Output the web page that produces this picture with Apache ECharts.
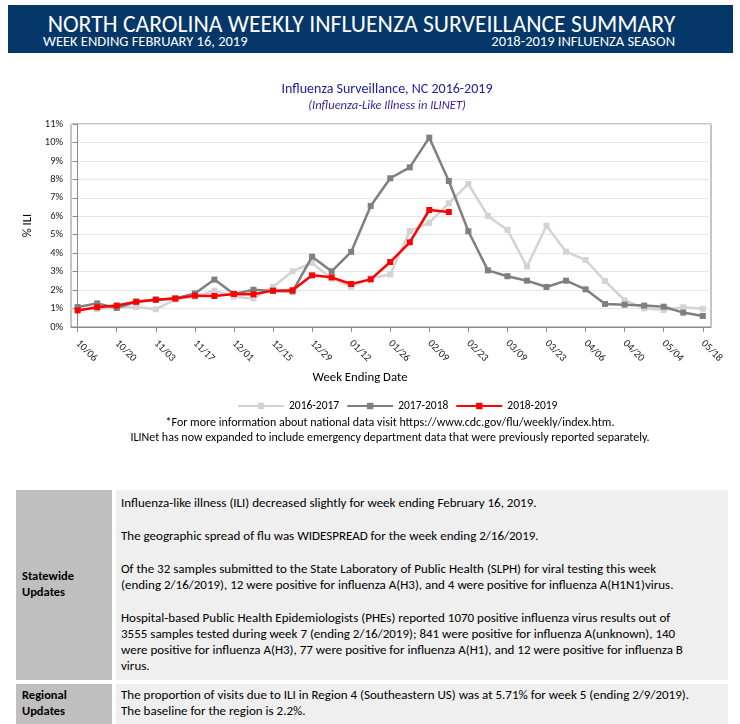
<!DOCTYPE html>
<html>
<head>
<meta charset="UTF-8">
<title>NC Influenza Surveillance</title>
<script src="https://cdn.jsdelivr.net/npm/echarts@6/dist/echarts.min.js"></script>
<style>
  body { margin: 0; width: 740px; height: 724px; overflow: hidden; background: #fff; position: relative;
         font-family: Carlito, "Liberation Sans Narrow", "Open Sans", sans-serif; color: #000; }
  .header { position: absolute; left: 8px; top: 5px; width: 725px; height: 48px; background: #053769; color: #fff; }
  .header .big { position: absolute; left: -9px; width: 100%; top: 5px; text-align: center; font-size: 23.7px; line-height: 28px; white-space: nowrap; }
  .header .sub { position: absolute; top: 28px; font-size: 14.5px; line-height: 17px; white-space: nowrap; }
  #chart { position: absolute; left: 0; top: 60px; width: 740px; height: 360px; }
  .note { position: absolute; left: 0; width: 780px; text-align: center; font-size: 12px; line-height: 15px; }
  .cell { position: absolute; }
  .lab { background: #bfbfbf; font-weight: bold; font-size: 12.5px; line-height: 16px; }
  .txt { background: #efefef; font-size: 13px; line-height: 16px; white-space: nowrap; }
  .txt p { margin: 0 0 17px 0; }
</style>
</head>
<body>
  <div class="header">
    <div class="big">NORTH CAROLINA WEEKLY INFLUENZA SURVEILLANCE SUMMARY</div>
    <div class="sub" style="left:35px;">WEEK ENDING FEBRUARY 16, 2019</div>
    <div class="sub" style="right:58px;">2018-2019 INFLUENZA SEASON</div>
  </div>

  <div id="chart"></div>

  <div class="note" style="top:415px;">*For more information about national data visit https://www.cdc.gov/flu/weekly/index.htm.</div>
  <div class="note" style="top:430px;">ILINet has now expanded to include emergency department data that were previously reported separately.</div>

  <div class="cell lab" style="left:16px; top:490px; width:90px; height:190px; padding-left:6px;">
    <div style="position:absolute; left:6px; top:78px;">Statewide<br>Updates</div>
  </div>
  <div class="cell txt" style="left:116px; top:490px; width:607px; height:190px; padding-left:5px;">
    <div style="padding-top:5px;">
      <p>Influenza-like illness (ILI) decreased slightly for week ending February 16, 2019.</p>
      <p>The geographic spread of flu was WIDESPREAD for the week ending 2/16/2019.</p>
      <p>Of the 32 samples submitted to the State Laboratory of Public Health (SLPH) for viral testing this week<br>(ending 2/16/2019), 12 were positive for influenza A(H3), and 4 were positive for influenza A(H1N1)virus.</p>
      <p>Hospital-based Public Health Epidemiologists (PHEs) reported 1070 positive influenza virus results out of<br>3555 samples tested during week 7 (ending 2/16/2019); 841 were positive for influenza A(unknown), 140<br>were positive for influenza A(H3), 77 were positive for influenza A(H1), and 12 were positive for influenza B<br>virus.</p>
    </div>
  </div>
  <div class="cell lab" style="left:16px; top:684px; width:90px; height:45px; padding-left:6px;">
    <div style="position:absolute; left:6px; top:3px;">Regional<br>Updates</div>
  </div>
  <div class="cell txt" style="left:116px; top:684px; width:607px; height:45px; padding-left:5px;">
    <div style="padding-top:3px;">
      <p>The proportion of visits due to ILI in Region 4 (Southeastern US) was at 5.71% for week 5 (ending 2/9/2019).<br>The baseline for the region is 2.2%.</p>
    </div>
  </div>

<script>
  // week ending dates, 2016-2019 seasons share the same week slots
  var weeks = ['10/06','10/13','10/20','10/27','11/03','11/10','11/17','11/24','12/01','12/08',
               '12/15','12/22','12/29','01/05','01/12','01/19','01/26','02/02','02/09','02/16',
               '02/23','03/02','03/09','03/16','03/23','03/30','04/06','04/13','04/20','04/27',
               '05/04','05/11','05/18'];
  // labelled weeks (every other week)
  var labelWeeks = [0,2,4,6,8,10,12,14,16,18,20,22,24,26,28,30,32];

  // % ILI
  var s2016 = [1.00,0.98,1.05,1.08,0.96,1.50,1.64,1.97,1.64,1.55,
               2.17,3.02,3.47,2.62,2.19,2.64,2.85,5.20,5.65,6.70,
               7.75,6.02,5.26,3.27,5.49,4.08,3.63,2.49,1.45,1.01,
               0.92,1.07,0.99];
  var s2017 = [1.08,1.28,1.03,1.37,1.48,1.55,1.82,2.57,1.79,2.02,
               1.95,1.92,3.81,3.02,4.07,6.56,8.06,8.65,10.26,7.91,
               5.19,3.07,2.75,2.51,2.17,2.51,2.04,1.25,1.21,1.16,
               1.10,0.78,0.60];
  var s2018 = [0.90,1.07,1.16,1.37,1.48,1.54,1.70,1.68,1.79,1.77,
               1.97,1.99,2.80,2.69,2.33,2.58,3.52,4.59,6.34,6.23];

  var seriesNames = ['2016-2017','2017-2018','2018-2019'];
  var seriesColors = ['#d3d3d3','#7f7f7f','#ff0000'];
  var FONT = 'Carlito, "Liberation Sans Narrow", "Open Sans", sans-serif';

  var chart = echarts.init(document.getElementById('chart'));

  function line(i, vals) {
    return {
      name: seriesNames[i],
      type: 'line',
      data: vals.map(function (v, k) { return [k, v]; }),
      symbol: 'rect',
      symbolSize: 6,
      showSymbol: true,
      itemStyle: { color: seriesColors[i] },
      lineStyle: { color: seriesColors[i], width: 2.5 },
      z: 2 + i,
      animation: false
    };
  }

  var option = {
    animation: false,
    textStyle: { fontFamily: FONT },
    title: [{
      text: 'Influenza Surveillance, NC 2016-2019',
      subtext: '(Influenza-Like Illness in ILINET)',
      left: 382, top: 17, textAlign: 'center',
      itemGap: 3,
      textStyle: { fontFamily: FONT, fontSize: 14, fontWeight: 'normal', color: '#2020a0' },
      subtextStyle: { fontFamily: FONT, fontSize: 12.5, fontStyle: 'italic', color: '#3a1f9a' }
    }, {
      // x axis title
      text: 'Week Ending Date',
      left: 360, top: 311, textAlign: 'center', padding: 0,
      textStyle: { fontFamily: FONT, fontSize: 12.8, fontWeight: 'normal', color: '#000' }
    }],
    legend: {
      data: seriesNames,
      top: 335, left: 232,
      itemWidth: 46, itemHeight: 8, itemGap: 7,
      textStyle: { fontFamily: FONT, fontSize: 11.5, color: '#000' }
    },
    grid: {
      left: 71, right: 29, top: 64, bottom: 93,
      show: true, borderColor: '#8a8a8a', borderWidth: 1, backgroundColor: 'transparent'
    },
    xAxis: {
      type: 'value',
      min: -0.34, max: 32.42,
      axisLine: { show: true, lineStyle: { color: '#8a8a8a' } },
      axisTick: { show: true, customValues: labelWeeks, length: 5, lineStyle: { color: '#8a8a8a' } },
      axisLabel: {
        customValues: labelWeeks,
        formatter: function (v) { return weeks[Math.round(v)]; },
        rotate: -45, margin: 15, fontSize: 10.5, color: '#222', fontFamily: FONT
      },
      splitLine: { show: false }
    },
    yAxis: {
      type: 'value',
      min: 0, max: 11, interval: 1,
      name: '% ILI',
      nameLocation: 'middle',
      nameRotate: 90,
      nameGap: 37,
      nameTextStyle: { fontFamily: FONT, fontSize: 12.5, color: '#000' },
      axisLine: { show: true, lineStyle: { color: '#8a8a8a' } },
      axisTick: { show: true, length: 5, lineStyle: { color: '#8a8a8a' } },
      axisLabel: { formatter: '{value}%', fontSize: 10.5, color: '#222', margin: 8, fontFamily: FONT },
      splitLine: { lineStyle: { color: '#e6e6e6', width: 1 } }
    },
    series: [line(0, s2016), line(1, s2017), line(2, s2018)]
  };

  chart.setOption(option);
</script>
</body>
</html>
